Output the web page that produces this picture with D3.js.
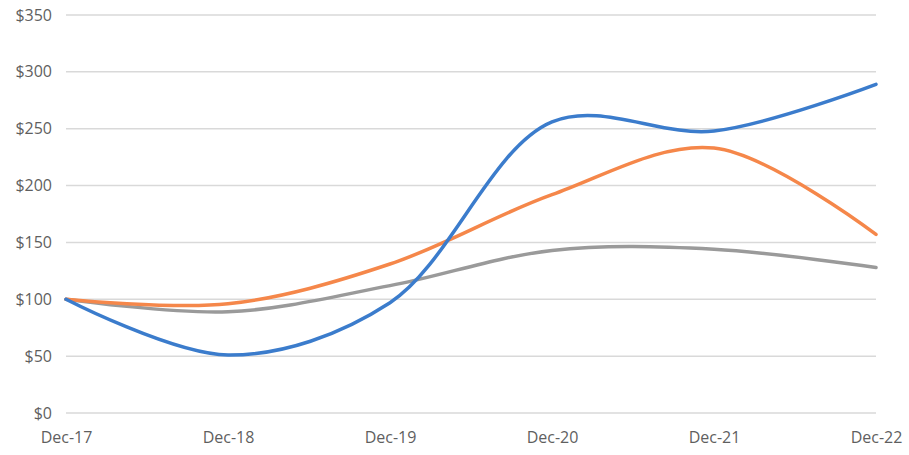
<!DOCTYPE html>
<html><head><meta charset="utf-8">
<script src="https://cdn.jsdelivr.net/npm/d3@7"></script>
<style>body{margin:0;background:#fff}svg{display:block}</style>
</head><body><div id="c"></div>
<script>
const categories = ["Dec-17","Dec-18","Dec-19","Dec-20","Dec-21","Dec-22"];
const blueValues = [100, 51, 97, 256, 248, 289];
const orangeValues = [100, 96, 131, 192, 233, 157];
const greyValues = [100, 89, 112, 143, 144, 128];
const yTicks = [0, 50, 100, 150, 200, 250, 300, 350];

const W = 909, H = 455;
const svg = d3.select("#c").append("svg").attr("width", W).attr("height", H);
const x = d3.scalePoint().domain(categories).range([66, 876]);
const y = d3.scaleLinear().domain([0, 350]).range([413, 15]);

const grid = svg.append("g");
grid.selectAll("line").data(yTicks).join("line")
  .attr("x1", 66).attr("x2", 876)
  .attr("y1", d => y(d)).attr("y2", d => y(d))
  .attr("stroke", "#d9d9d9").attr("stroke-width", 1.5);

const yAxis = svg.append("g").attr("transform", "translate(52,0)")
  .call(d3.axisLeft(y).tickValues(yTicks).tickSize(0).tickPadding(0).tickFormat(d => "$" + d));
yAxis.select(".domain").remove();
yAxis.selectAll("text").attr("fill", "#5f5f5f").style("font-family", "Open Sans, sans-serif").style("font-size", "16px");

const xAxis = svg.append("g").attr("transform", "translate(0,432)")
  .call(d3.axisBottom(x).tickSize(0).tickPadding(0));
xAxis.select(".domain").remove();
xAxis.selectAll("text").attr("fill", "#5f5f5f").style("font-family", "Open Sans, sans-serif").style("font-size", "16px");

const line = d3.line().x((d, i) => x(categories[i])).y(d => y(d)).curve(d3.curveCatmullRom.alpha(0.5));
const series = [
  {v: greyValues, c: "#9a9a9a"},
  {v: orangeValues, c: "#f5874a"},
  {v: blueValues, c: "#3b7ccc"}
];
svg.append("g").selectAll("path").data(series).join("path")
  .attr("d", d => line(d.v)).attr("fill", "none")
  .attr("stroke", d => d.c).attr("stroke-width", 3.5).attr("stroke-linecap", "round");
</script></body></html>
